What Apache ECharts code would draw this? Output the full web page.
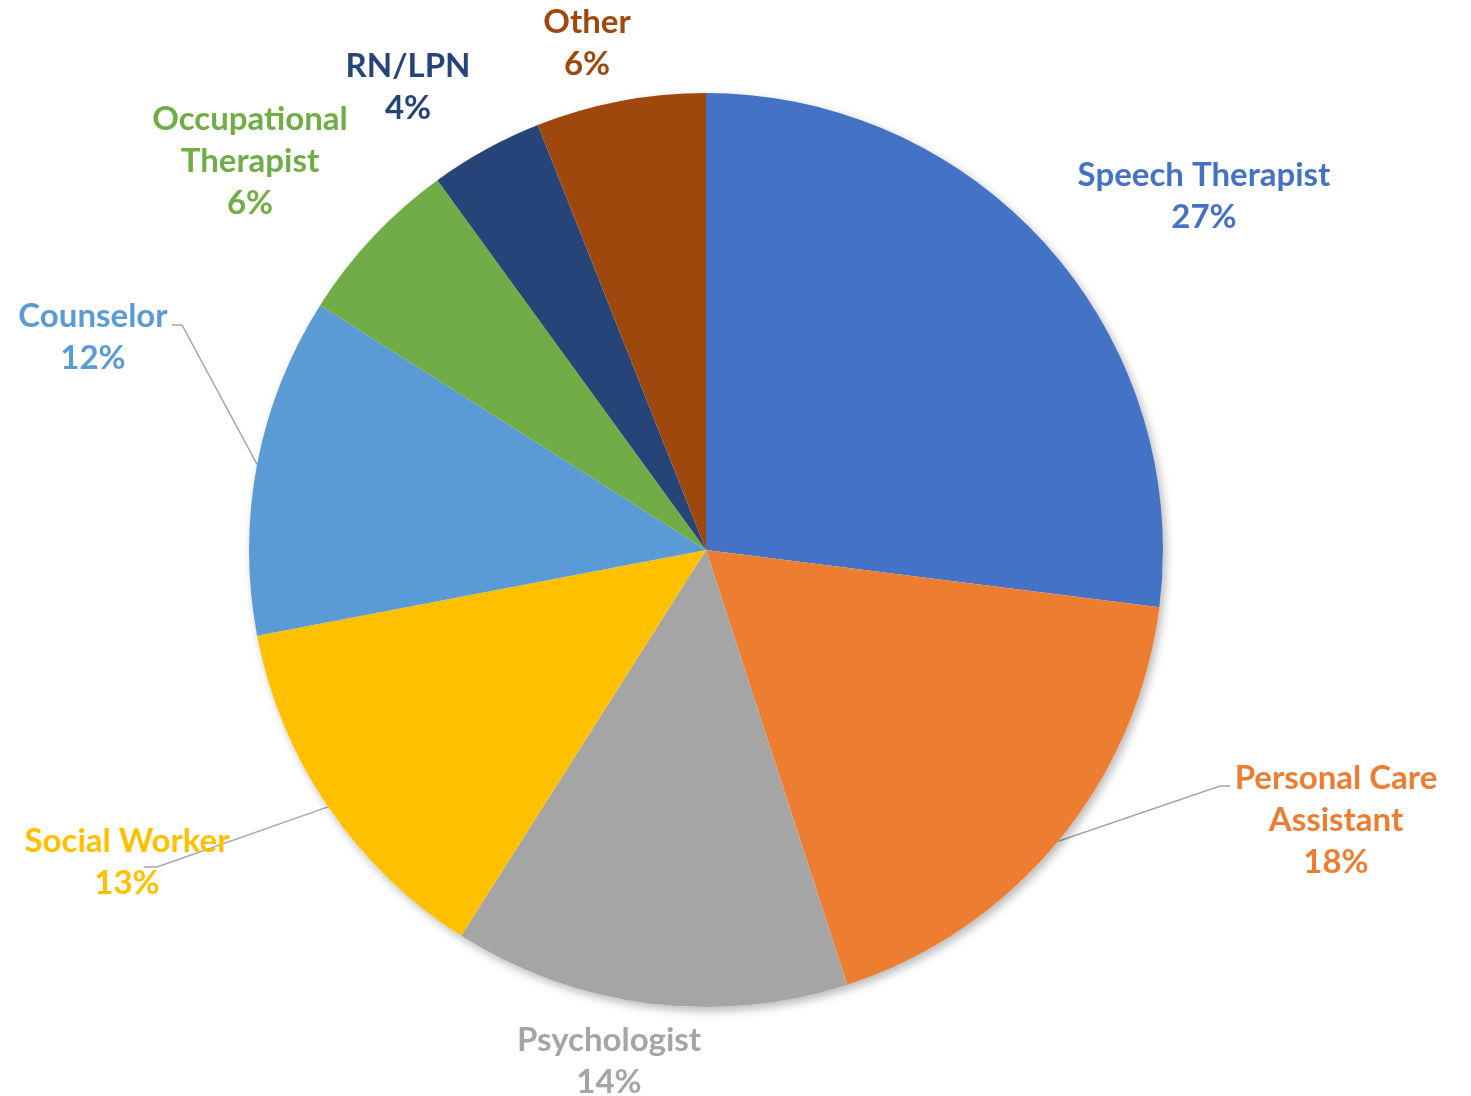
<!DOCTYPE html>
<html>
<head>
<meta charset="utf-8">
<title>Pie</title>
<script src="https://cdn.jsdelivr.net/npm/echarts@6/dist/echarts.min.js"></script>
<style>
html,body{margin:0;padding:0;background:#fff;}
#chart{width:1471px;height:1096px;}
</style>
</head>
<body>
<div id="chart"></div>
<script>
// data
var categories = ['Speech Therapist','Personal Care Assistant','Psychologist','Social Worker','Counselor','Occupational Therapist','RN/LPN','Other'];
var values = [27, 18, 14, 13, 12, 6, 4, 6];
var colors = ['#4472C4','#ED7D31','#A5A5A5','#FFC000','#5B9BD5','#70AD47','#264478','#9E480E'];

// how the names wrap in the labels
var wrapped = {
    'Personal Care Assistant': 'Personal Care\nAssistant',
    'Occupational Therapist': 'Occupational\nTherapist'
};

// label block centres + leader line attach (relative to centre)
var labelPos = [
    {x:1204, y:196},
    {x:1336, y:820, line:{dx:-106, dy:-34, len:-10}},
    {x:609, y:1061},
    {x:127, y:862, line:{dx:17, dy:5, len:13}},
    {x:93, y:337, line:{dx:79, dy:-12, len:10}},
    {x:250, y:161},
    {x:408, y:87},
    {x:587, y:43}
];

var total = 0;
for (var i = 0; i < values.length; i++) total += values[i];

var pieData = [];
for (var i = 0; i < categories.length; i++) {
    pieData.push({
        name: categories[i],
        value: values[i],
        itemStyle: {color: colors[i]},
        label: {color: colors[i]},
        labelLine: {show: !!labelPos[i].line}
    });
}

var myChart = echarts.init(document.getElementById('chart'));
var option = {
    backgroundColor: '#ffffff',
    animation: false,
    series: [
        {
            // soft shadow under the whole pie
            type: 'pie',
            silent: true,
            center: [706, 550],
            radius: 457,
            label: {show: false},
            labelLine: {show: false},
            itemStyle: {
                color: '#ffffff',
                shadowBlur: 10,
                shadowOffsetX: 3,
                shadowOffsetY: 4,
                shadowColor: 'rgba(0,0,0,0.28)'
            },
            data: [{name: 'all', value: total}]
        },
        {
            type: 'pie',
            center: [706, 550],
            radius: 457,
            startAngle: 90,
            clockwise: true,
            avoidLabelOverlap: false,
            percentPrecision: 0,
            itemStyle: {borderWidth: 0},
            label: {
                show: true,
                position: 'outside',
                fontFamily: 'Lato',
                fontWeight: 'bold',
                fontSize: 33,
                lineHeight: 42,
                align: 'center',
                formatter: function (p) {
                    return (wrapped[p.name] || p.name) + '\n' + p.percent + '%';
                }
            },
            labelLine: {
                length: 20,
                length2: 10,
                smooth: false,
                lineStyle: {color: '#a6a6a6', width: 1.5}
            },
            labelLayout: function (params) {
                var pos = labelPos[params.dataIndex];
                var res = {x: pos.x, y: pos.y, align: 'center', verticalAlign: 'middle'};
                if (pos.line && params.labelLinePoints) {
                    var start = params.labelLinePoints[0];
                    var ax = pos.x + pos.line.dx, ay = pos.y + pos.line.dy;
                    res.labelLinePoints = [start, [ax + pos.line.len, ay], [ax, ay]];
                }
                return res;
            },
            data: pieData
        }
    ]
};
myChart.setOption(option);
</script>
</body>
</html>
